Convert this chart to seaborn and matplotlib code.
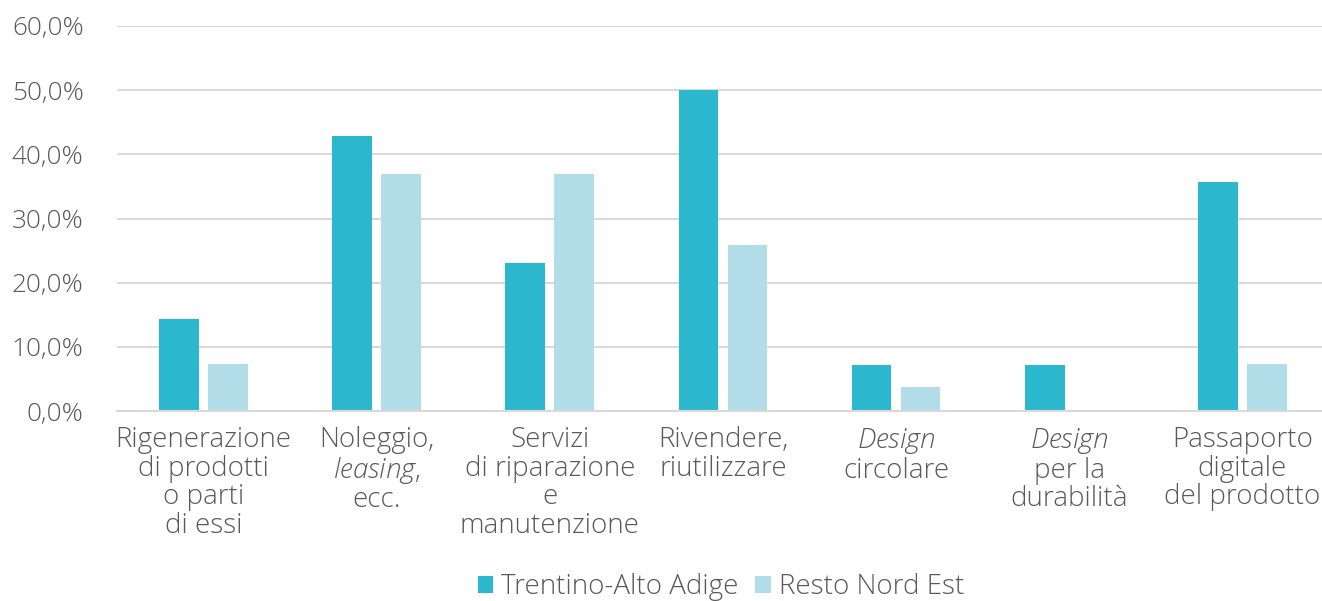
import matplotlib
matplotlib.use("Agg")
import matplotlib.pyplot as plt
import seaborn as sns
import pandas as pd
from matplotlib.patches import Patch
from matplotlib.ticker import FuncFormatter

categories = [
    "Rigenerazione\ndi prodotti\no parti\ndi essi",
    "Noleggio,\n$\\mathit{leasing}$,\necc.",
    "Servizi\ndi riparazione\ne\nmanutenzione",
    "Rivendere,\nriutilizzare",
    "$\\mathit{Design}$\ncircolare",
    "$\\mathit{Design}$\nper la\ndurabilità",
    "Passaporto\ndigitale\ndel prodotto",
]
series_names = ["Trentino-Alto Adige", "Resto Nord Est"]
trentino = [14.3, 42.9, 23.1, 50.0, 7.1, 7.1, 35.7]
resto = [7.4, 37.0, 37.0, 25.9, 3.7, 0.0, 7.4]
y_ticks = [0, 10, 20, 30, 40, 50, 60]
colors = ["#2bb7cd", "#b2dde8"]

df = pd.DataFrame({
    "cat": categories * 2,
    "serie": [series_names[0]] * len(categories) + [series_names[1]] * len(categories),
    "val": trentino + resto,
})

sns.set_theme(style="white")
plt.rcParams["font.family"] = ["Open Sans", "DejaVu Sans"]
plt.rcParams["font.weight"] = "light"
plt.rcParams["mathtext.fontset"] = "custom"
plt.rcParams["mathtext.rm"] = "Open Sans:light"
plt.rcParams["mathtext.it"] = "Open Sans:italic:light"

text_color = "#595959"
fig = plt.figure(figsize=(13.22, 6.01), dpi=100)
ax = fig.add_axes([117 / 1322, 1 - 411 / 601, (1322 - 117) / 1322, (411 - 26) / 601])

sns.barplot(data=df, x="cat", y="val", hue="serie", hue_order=series_names,
            palette=colors, width=0.566, gap=0.19, ax=ax, legend=False,
            saturation=1, linewidth=0, errorbar=None, order=categories)

ax.set_ylim(0, 60)
ax.set_xlim(-0.5, 6.46)
ax.set_yticks(y_ticks)
ax.yaxis.set_major_formatter(FuncFormatter(lambda v, p: f"{v:.1f}%".replace(".", ",")))
ax.grid(axis="y", color="#d9d9d9", linewidth=1.5)
ax.set_axisbelow(True)
for s in ["top", "right", "left"]:
    ax.spines[s].set_visible(False)
ax.spines["bottom"].set_color("#d9d9d9")
ax.spines["bottom"].set_linewidth(1.5)
ax.set_xlabel("")
ax.set_ylabel("")
ax.tick_params(axis="x", length=0, pad=11, labelsize=20, labelcolor=text_color)
ax.tick_params(axis="y", length=0, pad=24, labelsize=18.8, labelcolor=text_color)
for lbl in ax.get_xticklabels():
    lbl.set_linespacing(1.02)
    lbl.set_horizontalalignment("center")
    lbl.set_fontweight("light")
for lbl in ax.get_yticklabels():
    lbl.set_fontweight("light")

handles = [Patch(facecolor=c, edgecolor="none") for c in colors]
leg = fig.legend(handles, series_names, loc="center", bbox_to_anchor=(721 / 1322, 0.023),
                 ncol=2, frameon=False, fontsize=20, labelcolor=text_color,
                 handlelength=0.55, handleheight=0.55, handletextpad=0.3, columnspacing=0.6,
                 borderpad=0)
for t in leg.get_texts():
    t.set_fontweight("light")

fig.savefig("out.png", dpi=100)
